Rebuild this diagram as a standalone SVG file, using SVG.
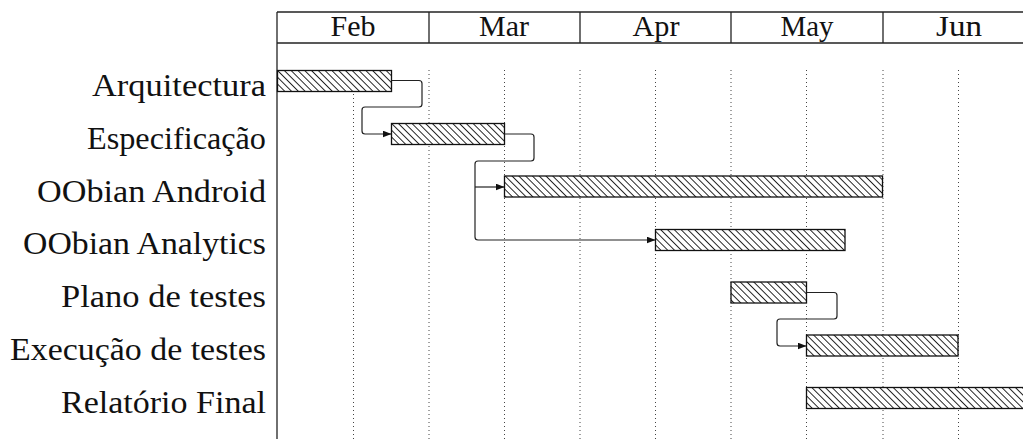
<svg xmlns="http://www.w3.org/2000/svg" width="1023" height="439" viewBox="0 0 1023 439">
  <style>
    .mon { font-size: 30px; fill: #111; text-anchor: middle; }
    .lbl { font-size: 31px; fill: #111; }
    .axis { stroke: #222; stroke-width: 1.3; fill: none; }
    .grid { stroke: #444; stroke-width: 1; stroke-dasharray: 1 3; fill: none; }
    .bar { fill: url(#hatch); stroke: #111; stroke-width: 1.3; }
    .link { fill: none; stroke: #222; stroke-width: 1.2; }
  </style>
  <defs>
    <pattern id="hatch" width="4.8" height="4.8" patternUnits="userSpaceOnUse" patternTransform="rotate(-45)">
      <rect width="4.8" height="4.8" fill="#fff"/>
      <line x1="2.4" y1="0" x2="2.4" y2="4.8" stroke="#111" stroke-width="0.9"/>
    </pattern>
    <marker id="arrow" markerUnits="userSpaceOnUse" markerWidth="10" markerHeight="8" refX="9" refY="3.5" orient="auto">
      <path d="M0,0 L9,3.5 L0,7 z" fill="#111"/>
    </marker>
  </defs>

  <rect width="1023" height="439" fill="#fff"/>

  <!-- month header -->
  <g id="timeline-header" font-family="Liberation Serif, serif">
    <line class="axis" x1="277" y1="12" x2="1023" y2="12"/>
    <line class="axis" x1="277" y1="43" x2="1023" y2="43"/>
    <line class="axis" x1="429" y1="12" x2="429" y2="43"/>
    <line class="axis" x1="580" y1="12" x2="580" y2="43"/>
    <line class="axis" x1="731" y1="12" x2="731" y2="43"/>
    <line class="axis" x1="883" y1="12" x2="883" y2="43"/>
    <text class="mon" x="353" y="36" textLength="45" lengthAdjust="spacingAndGlyphs">Feb</text>
    <text class="mon" x="504" y="36" textLength="50" lengthAdjust="spacingAndGlyphs">Mar</text>
    <text class="mon" x="656" y="36" textLength="47" lengthAdjust="spacingAndGlyphs">Apr</text>
    <text class="mon" x="807" y="36" textLength="53" lengthAdjust="spacingAndGlyphs">May</text>
    <text class="mon" x="959" y="36" textLength="46" lengthAdjust="spacingAndGlyphs">Jun</text>
  </g>

  <!-- half-month grid -->
  <g id="grid">
    <line class="grid" x1="353.5" y1="70" x2="353.5" y2="439"/>
    <line class="grid" x1="429" y1="70" x2="429" y2="439"/>
    <line class="grid" x1="504.5" y1="70" x2="504.5" y2="439"/>
    <line class="grid" x1="580" y1="70" x2="580" y2="439"/>
    <line class="grid" x1="655.5" y1="70" x2="655.5" y2="439"/>
    <line class="grid" x1="731" y1="70" x2="731" y2="439"/>
    <line class="grid" x1="806.5" y1="70" x2="806.5" y2="439"/>
    <line class="grid" x1="883" y1="70" x2="883" y2="439"/>
    <line class="grid" x1="958.5" y1="70" x2="958.5" y2="439"/>
  </g>

  <line class="axis" x1="277" y1="12" x2="277" y2="439"/>

  <!-- tasks -->
  <g id="tasks" font-family="Liberation Serif, serif">
    <g id="task-arquitectura">
      <text class="lbl" x="92" y="96" textLength="174" lengthAdjust="spacingAndGlyphs">Arquitectura</text>
      <rect class="bar" x="277.5" y="70.5" width="114" height="21"/>
    </g>
    <g id="task-especificacao">
      <text class="lbl" x="87" y="149" textLength="179" lengthAdjust="spacingAndGlyphs">Especificação</text>
      <rect class="bar" x="391.5" y="123.5" width="113" height="21"/>
    </g>
    <g id="task-oobian-android">
      <text class="lbl" x="37" y="202" textLength="229" lengthAdjust="spacingAndGlyphs">OObian Android</text>
      <rect class="bar" x="504.5" y="176" width="378" height="21"/>
    </g>
    <g id="task-oobian-analytics">
      <text class="lbl" x="23" y="254" textLength="243" lengthAdjust="spacingAndGlyphs">OObian Analytics</text>
      <rect class="bar" x="655.5" y="229.5" width="189.5" height="21"/>
    </g>
    <g id="task-plano-testes">
      <text class="lbl" x="61" y="307" textLength="205" lengthAdjust="spacingAndGlyphs">Plano de testes</text>
      <rect class="bar" x="731" y="282" width="75.5" height="21"/>
    </g>
    <g id="task-execucao-testes">
      <text class="lbl" x="10" y="360" textLength="256" lengthAdjust="spacingAndGlyphs">Execução de testes</text>
      <rect class="bar" x="806.5" y="335" width="151.5" height="21"/>
    </g>
    <g id="task-relatorio-final">
      <text class="lbl" x="61" y="413" textLength="205" lengthAdjust="spacingAndGlyphs">Relatório Final</text>
      <rect class="bar" x="806.5" y="387.5" width="230" height="21"/>
    </g>
  </g>

  <!-- dependencies -->
  <g id="connectors">
    <path class="link" marker-end="url(#arrow)" d="M391.5,80.5 H419 Q422,80.5 422,83.5 V104 Q422,107 419,107 H365 Q362,107 362,110 V131 Q362,134 365,134 H391.5"/>
    <path class="link" d="M504.5,134 H531 Q534,134 534,137 V158 Q534,161 531,161 H478 Q475,161 475,164 V237 Q475,240 478,240 H655.5" marker-end="url(#arrow)"/>
    <path class="link" marker-end="url(#arrow)" d="M475,187 H504.5"/>
    <path class="link" marker-end="url(#arrow)" d="M806.5,292.5 H834 Q837,292.5 837,295.5 V316 Q837,319 834,319 H780 Q777,319 777,322 V343 Q777,346 780,346 H806.5"/>
  </g>
</svg>
